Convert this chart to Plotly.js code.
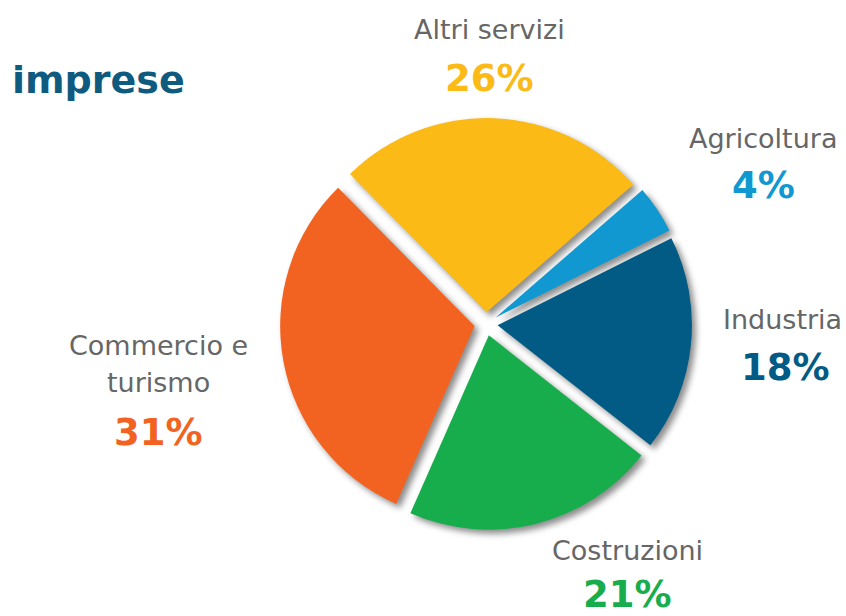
<!DOCTYPE html>
<html>
<head>
<meta charset="utf-8">
<script src="https://cdn.plot.ly/plotly-3.0.1.min.js"></script>
<style>
  html, body { margin: 0; padding: 0; background: #ffffff; }
  #chart { width: 846px; height: 616px; }
  #chart .main-svg:first-child { filter: drop-shadow(4px 4px 3px rgba(0,0,0,0.45)); }
</style>
</head>
<body>
<div id="chart"></div>
<script>
const categories = ["Agricoltura", "Industria", "Costruzioni", "Commercio e", "Altri servizi"];
const categorySecondLine = ["", "", "", "turismo", ""];
const values = [4, 18, 21, 31, 26];
const percentLabels = ["4%", "18%", "21%", "31%", "26%"];
const colors = ["#1298D0", "#025B84", "#17AD4C", "#F26322", "#FBBA16"];

const W = 846, H = 616;
// label anchor positions (pixels) for name and percentage
const namePos = [[763, 138], [782, 320], [627, 550], [158, 345], [490, 30]];
const pctPos  = [[763, 185], [785, 367], [627, 594], [158, 432], [490, 78]];

const annotations = [];
categories.forEach((c, i) => {
  annotations.push({
    text: c, xref: 'paper', yref: 'paper',
    x: namePos[i][0] / W, y: 1 - namePos[i][1] / H,
    xanchor: 'center', yanchor: 'middle', showarrow: false,
    font: { family: 'DejaVu Sans', size: 27, color: '#666666' }
  });
  if (categorySecondLine[i]) {
    annotations.push({
      text: categorySecondLine[i], xref: 'paper', yref: 'paper',
      x: namePos[i][0] / W, y: 1 - (namePos[i][1] + 37) / H,
      xanchor: 'center', yanchor: 'middle', showarrow: false,
      font: { family: 'DejaVu Sans', size: 27, color: '#666666' }
    });
  }
  annotations.push({
    text: '<b>' + percentLabels[i] + '</b>', xref: 'paper', yref: 'paper',
    x: pctPos[i][0] / W, y: 1 - pctPos[i][1] / H,
    xanchor: 'center', yanchor: 'middle', showarrow: false,
    font: { family: 'DejaVu Sans', size: 37, color: colors[i] }
  });
});

const cx = 486, cy = 324, half = 206;
const data = [{
  type: 'pie',
  labels: categories,
  values: values,
  sort: false,
  direction: 'clockwise',
  rotation: 49,
  pull: [0.06, 0.06, 0.06, 0.06, 0.06],
  marker: { colors: colors, line: { width: 0 } },
  textinfo: 'none',
  hoverinfo: 'none',
  showlegend: false,
  domain: { x: [(cx - half) / W, (cx + half) / W], y: [(H - cy - half) / H, (H - cy + half) / H] }
}];

const layout = {
  width: W, height: H,
  margin: { l: 0, r: 0, t: 0, b: 0 },
  paper_bgcolor: 'rgba(0,0,0,0)',
  plot_bgcolor: 'rgba(0,0,0,0)',
  showlegend: false,
  title: {
    text: '<b>imprese</b>',
    x: 12 / W, xanchor: 'left', xref: 'paper',
    y: 1 - 80 / H, yanchor: 'middle', yref: 'paper',
    font: { family: 'DejaVu Sans', size: 38, color: '#0F5B80' }
  },
  annotations: annotations
};

Plotly.newPlot('chart', data, layout, { displayModeBar: false, staticPlot: true });
</script>
</body>
</html>
